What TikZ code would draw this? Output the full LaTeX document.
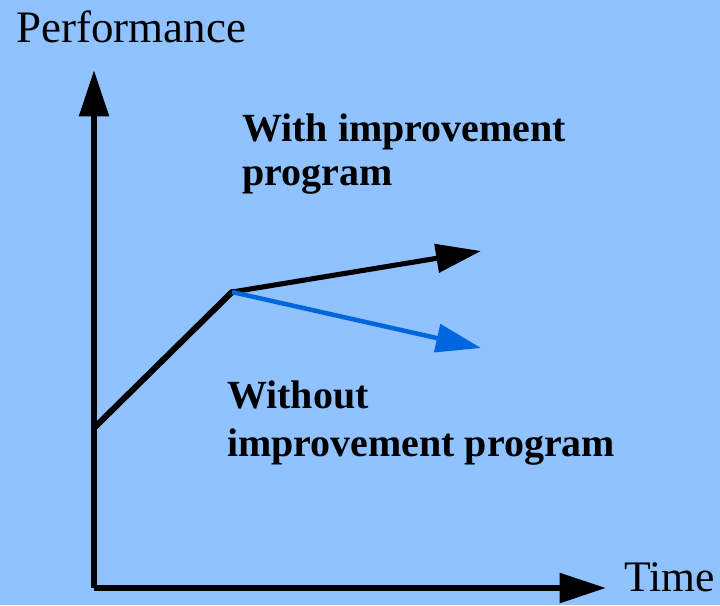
\documentclass[tikz,border=0pt]{standalone}
\usepackage{fontspec}
\setmainfont{Liberation Serif}
\usetikzlibrary{arrows.meta}
\definecolor{bgblue}{RGB}{143,194,255}
\definecolor{lineblue}{RGB}{0,102,221}

\begin{document}
\begin{tikzpicture}[x=0.025cm, y=-0.025cm,
	axis/.style = {line width=4.3pt, -{Triangle[length=33pt, width=20.5pt]}},
	trend/.style = {line width=3.6pt, -{Triangle[length=32pt, width=20pt]}},
	label/.style = {anchor=base west, inner sep=0pt, align=left, font=\fontsize{28.4}{31.2}\selectfont\bfseries}]
	\fill[bgblue] (0,0) rectangle (720,605);

	\coordinate (o) at (94,588);
	\coordinate (ytip) at (94,70);
	\coordinate (xtip) at (606,588);
	\coordinate (start) at (94,428);
	\coordinate (knee) at (232,292);
	\coordinate (up) at (481,251);
	\coordinate (down) at (481,348);

	\node[anchor=base west, inner sep=0pt, font=\fontsize{32}{32}\selectfont] (perf) at (16,42) {Performance};
	\node[anchor=base west, inner sep=0pt, font=\fontsize{31}{31}\selectfont] (time) at (624,591) {Time};
	\node[label] (with) at (242,185) {With improvement\\program};
	\node[label, font=\fontsize{28.4}{34}\selectfont\bfseries] (without) at (227,456) {Without\\improvement program};

	\draw[axis] (o) -- (ytip);
	\draw[axis] (o) -- (xtip);
	\draw[line width=4.3pt, line cap=round] (start) -- (knee);
	\draw[trend] (knee) -- (up);
	\draw[trend, lineblue, line width=3.2pt] (knee) -- (down);
\end{tikzpicture}
\end{document}
